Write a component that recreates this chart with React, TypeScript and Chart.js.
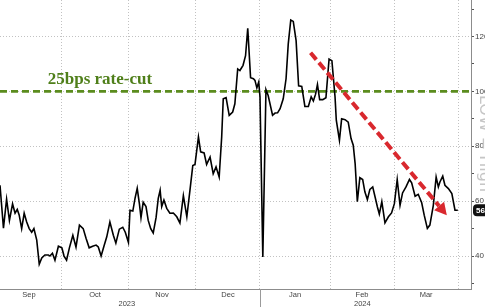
import React, { useEffect, useRef } from 'react';
import { Chart, registerables } from 'chart.js';

Chart.register(...registerables);

// ---- data ----
const sessions = [
  0, 1.1, 2.1, 3.0, 4.0, 4.8, 5.5, 6.1, 6.9, 7.7, 8.5, 9.3, 10.1, 10.8, 11.7, 12.5, 13.3, 14.3, 15.4, 15.9,
  16.7, 17.5, 18.6, 19.7, 20.4, 21.2, 22.1, 23.2, 24.2, 25.3, 26.5, 27.4, 28.4, 29.5, 30.6, 31.3, 32.2, 33.1,
  34.0, 35.0, 36.1, 36.9, 38.0, 39.1, 39.9, 40.9, 41.4, 42.3, 43.0, 43.7, 44.4, 44.9, 45.6, 46.5, 47.2, 48.0,
  48.8, 49.7, 50.4, 51.0, 51.5, 52.2, 53.1, 54.1, 55.2, 56.3, 57.3, 58.4, 59.5, 60.5, 61.4, 62.1, 63.2, 63.9,
  65.0, 65.8, 66.9, 67.9, 68.8, 69.8, 70.6, 71.1, 72.0, 73.0, 74.1, 74.8, 75.7, 76.4, 77.4, 78.2, 78.9, 79.8,
  80.7, 81.2, 81.8, 82.4, 82.8, 83.7, 84.7, 85.4, 86.8, 87.6, 88.4, 89.2, 90.2, 91.1, 91.8, 92.6, 93.4, 94.3,
  95.1, 96.1, 97.1, 98.2, 99.1, 99.8, 100.5, 101.1, 101.8, 102.8, 103.8, 104.8, 105.7, 106.7, 107.1, 108.1,
  108.8, 109.9, 110.9, 111.8, 112.5, 113.1, 113.8, 114.6, 115.5, 116.2, 117.0, 117.8, 118.7, 119.4, 120.2,
  120.8, 121.6, 122.6, 123.7, 124.7, 125.6, 126.5, 127.4, 128.2, 129.3, 130.4, 131.1, 132.2, 133.2, 134.3,
  135.1, 136.1, 136.9, 138.0, 138.9, 139.6, 140.1, 141.0, 141.7, 142.8, 143.9, 144.9, 145.8,
];
const values = [
  65.8, 50.2, 60.7, 53, 59, 55.6, 57, 55, 50, 55.6, 52.4, 50, 48.7, 50, 45.8, 37, 39.3, 40.4, 40.4, 40,
  41, 38.5, 43.6, 43, 40, 38.5, 43, 47.6, 43.3, 51.3, 50, 46.5, 43, 43.6, 44, 43.3, 40, 43.6,
  47, 52.4, 47.6, 44.7, 49.8, 50.5, 48.7, 45, 56.7, 56.4, 61, 64.7, 59, 54, 59.6, 58, 53, 50,
  48.4, 54, 61, 64, 58, 60.4, 57.4, 55.6, 55.7, 54.3, 52, 62, 54.3, 64, 73, 73.4, 83.4, 78,
  77.6, 73.4, 76.1, 70, 72.5, 68.8, 83.4, 97.3, 97.7, 91.3, 92.5, 95.5, 108.2, 107.6, 109.5, 113, 123, 105,
  104.6, 104, 101.3, 103.4, 98, 39.7, 100.6, 98.5, 91.3, 92.1, 92.2, 93.7, 97.3, 104.6, 117.3, 126, 125.5, 118.5,
  102, 101.8, 94.5, 94.5, 98, 96.5, 99, 102.5, 97, 97, 97.7, 111.8, 111.2, 98, 89.5, 82.2,
  90, 89.7, 88.8, 82.8, 80.4, 73.7, 59.8, 68.6, 67.9, 63.4, 60.6, 64.3, 65.2, 61.8, 57.9,
  55.3, 59.8, 52.1, 54.3, 55.7, 59.1, 67.9, 58.5, 63, 65.2, 67.9, 66.7, 61.8, 62.5, 59.4,
  54.9, 50.1, 51.3, 58.5, 68.8, 65.2, 67, 69.1, 65.8, 64.6, 62.8, 56.7, 56.7,
];
const monthNames = ['Sep', 'Oct', 'Nov', 'Dec', 'Jan', 'Feb', 'Mar'];
const monthStarts = [-1.3, 19.7, 40.8, 62.4, 82.8, 105.1, 125.5, 145.9];
const yearNames = ['2023', '2024'];
const yearBounds = [0, 82.8, 150];
const yTickValues = [30, 40, 50, 60, 70, 80, 90, 100, 110, 120, 130];
const yLabelStep = 20;
const rateCutLevel = 100;
const rateCutLabel = '25bps rate-cut';
const rateCutLabelAt = [15.2, 102.6];
const arrowFrom = [98.9, 114.1];
const arrowTo = [142.3, 54.9];
const sideNote = 'LOW = High';
const xMin = 0;
const xMax = 150;
const yMin = 28;
const yMax = 133.3;

type XTick = { value: number; kind: string; text: string | string[] };

function buildXTicks(): XTick[] {
  const t: XTick[] = [];
  monthStarts.forEach((m) => {
    if (m >= xMin && m <= xMax) t.push({ value: m, kind: 'start', text: '' });
  });
  monthNames.forEach((n, i) => {
    t.push({ value: (monthStarts[i] + monthStarts[i + 1]) / 2, kind: 'mid', text: n });
  });
  yearNames.forEach((n, i) => {
    t.push({ value: (yearBounds[i] + yearBounds[i + 1]) / 2 - 1, kind: 'year', text: ['', n] });
  });
  return t.sort((a, b) => a.value - b.value);
}

const overlay = {
  id: 'overlay',
  afterDraw(chart: any) {
    const { ctx, chartArea, scales } = chart;
    const x = scales.x;
    const y = scales.y;
    ctx.save();
    // rate cut label
    ctx.font = 'bold 17px "Liberation Serif", serif';
    ctx.fillStyle = '#4f7f1a';
    ctx.textBaseline = 'alphabetic';
    ctx.textAlign = 'left';
    ctx.fillText(rateCutLabel, x.getPixelForValue(rateCutLabelAt[0]), y.getPixelForValue(rateCutLabelAt[1]));

    // red dashed arrow
    const x1 = x.getPixelForValue(arrowFrom[0]);
    const y1 = y.getPixelForValue(arrowFrom[1]);
    const x2 = x.getPixelForValue(arrowTo[0]);
    const y2 = y.getPixelForValue(arrowTo[1]);
    const ang = Math.atan2(y2 - y1, x2 - x1);
    const headLen = 12;
    const hw = 6.5;
    const bx = x2 - headLen * Math.cos(ang);
    const by = y2 - headLen * Math.sin(ang);
    ctx.strokeStyle = '#d9282e';
    ctx.lineWidth = 4;
    ctx.setLineDash([9, 4]);
    ctx.beginPath();
    ctx.moveTo(x1, y1);
    ctx.lineTo(bx, by);
    ctx.stroke();
    ctx.setLineDash([]);
    ctx.fillStyle = '#d9282e';
    ctx.beginPath();
    ctx.moveTo(x2, y2);
    ctx.lineTo(bx - hw * Math.sin(ang), by + hw * Math.cos(ang));
    ctx.lineTo(bx + hw * Math.sin(ang), by - hw * Math.cos(ang));
    ctx.closePath();
    ctx.fill();

    // year separator below axis
    const sx = Math.round(x.getPixelForValue(yearBounds[1])) + 0.5;
    ctx.strokeStyle = '#9a9a9a';
    ctx.lineWidth = 1;
    ctx.beginPath();
    ctx.moveTo(sx, chartArea.bottom);
    ctx.lineTo(sx, chart.height);
    ctx.stroke();

    // last value badge
    const last = values[values.length - 1];
    const py = y.getPixelForValue(last);
    ctx.fillStyle = '#111';
    ctx.beginPath();
    if (ctx.roundRect) ctx.roundRect(chartArea.right + 2, py - 6, 22, 12, 4);
    else ctx.rect(chartArea.right + 2, py - 6, 22, 12);
    ctx.fill();
    ctx.fillStyle = '#fff';
    ctx.font = 'bold 8px "Liberation Sans", sans-serif';
    ctx.textBaseline = 'middle';
    ctx.fillText(last.toFixed(1), chartArea.right + 5, py + 0.5);

    // side note
    ctx.translate(chartArea.right + 13, (chartArea.top + chartArea.bottom) / 2 - 1);
    ctx.rotate(Math.PI / 2);
    ctx.font = '16px "DejaVu Sans", sans-serif';
    ctx.fillStyle = '#c6c6c6';
    ctx.textAlign = 'center';
    ctx.textBaseline = 'middle';
    ctx.fillText(sideNote, 0, 0);
    ctx.restore();
  },
};

export default function App() {
  const ref = useRef<HTMLCanvasElement | null>(null);
  useEffect(() => {
    if (!ref.current) return;
    Chart.defaults.font.family = '"Liberation Sans", Arial, sans-serif';
    const xTicks = buildXTicks();
    const chart = new Chart(ref.current, {
      type: 'line',
      data: {
        datasets: [
          {
            data: sessions.map((s, i) => ({ x: s, y: values[i] })),
            borderColor: '#000',
            borderWidth: 1.6,
            pointRadius: 0,
            tension: 0,
          },
          {
            data: [
              { x: xMin, y: rateCutLevel },
              { x: xMax, y: rateCutLevel },
            ],
            borderColor: '#5b8c1e',
            borderWidth: 2.6,
            borderDash: [7, 4],
            pointRadius: 0,
          },
        ],
      },
      options: {
        animation: false,
        responsive: false,
        events: [],
        layout: { padding: 0 },
        plugins: { legend: { display: false }, tooltip: { enabled: false } },
        scales: {
          x: {
            type: 'linear',
            position: 'bottom',
            min: xMin,
            max: xMax,
            afterBuildTicks: (s: any) => {
              s.ticks = xTicks.map((t) => ({ ...t }));
            },
            afterFit: (s: any) => {
              s.height = 18;
              s.paddingLeft = 0;
              s.paddingRight = 0;
              s.paddingTop = 0;
              s.paddingBottom = 0;
            },
            grid: {
              color: (c: any) => (c.tick && c.tick.kind === 'start' ? '#c2c2c2' : 'rgba(0,0,0,0)'),
              drawTicks: false,
              lineWidth: 1,
            },
            border: { display: true, color: '#8c8c8c', dash: [1, 2] },
            ticks: {
              autoSkip: false,
              maxRotation: 0,
              minRotation: 0,
              padding: 1,
              color: '#444',
              font: { size: 7.5, lineHeight: 1.2 },
              callback: (_v: any, i: number, ticks: any[]) => ticks[i].text,
            },
          },
          y: {
            type: 'linear',
            position: 'right',
            min: yMin,
            max: yMax,
            afterBuildTicks: (s: any) => {
              s.ticks = yTickValues.map((v) => ({ value: v }));
            },
            afterFit: (s: any) => {
              s.width = 14;
              s.paddingLeft = 0;
              s.paddingRight = 0;
              s.paddingTop = 0;
              s.paddingBottom = 0;
            },
            grid: {
              color: (c: any) => (c.tick && c.tick.value % yLabelStep === 0 ? '#c2c2c2' : 'rgba(0,0,0,0)'),
              tickColor: '#555',
              tickLength: 3,
              drawTicks: true,
            },
            border: { display: true, color: '#8c8c8c', dash: [1, 2] },
            ticks: {
              padding: 1,
              color: '#444',
              font: { size: 8 },
              callback: (v: any) => (Number(v) % yLabelStep === 0 ? String(v) : ''),
            },
          },
        },
      },
      plugins: [overlay],
    } as any);
    return () => chart.destroy();
  }, []);
  return (
    <div style={{ position: 'absolute', left: 0, top: 0, width: 485, height: 307, background: '#fff' }}>
      <canvas ref={ref} width={485} height={307} style={{ display: 'block', width: 485, height: 307 }} />
    </div>
  );
}
